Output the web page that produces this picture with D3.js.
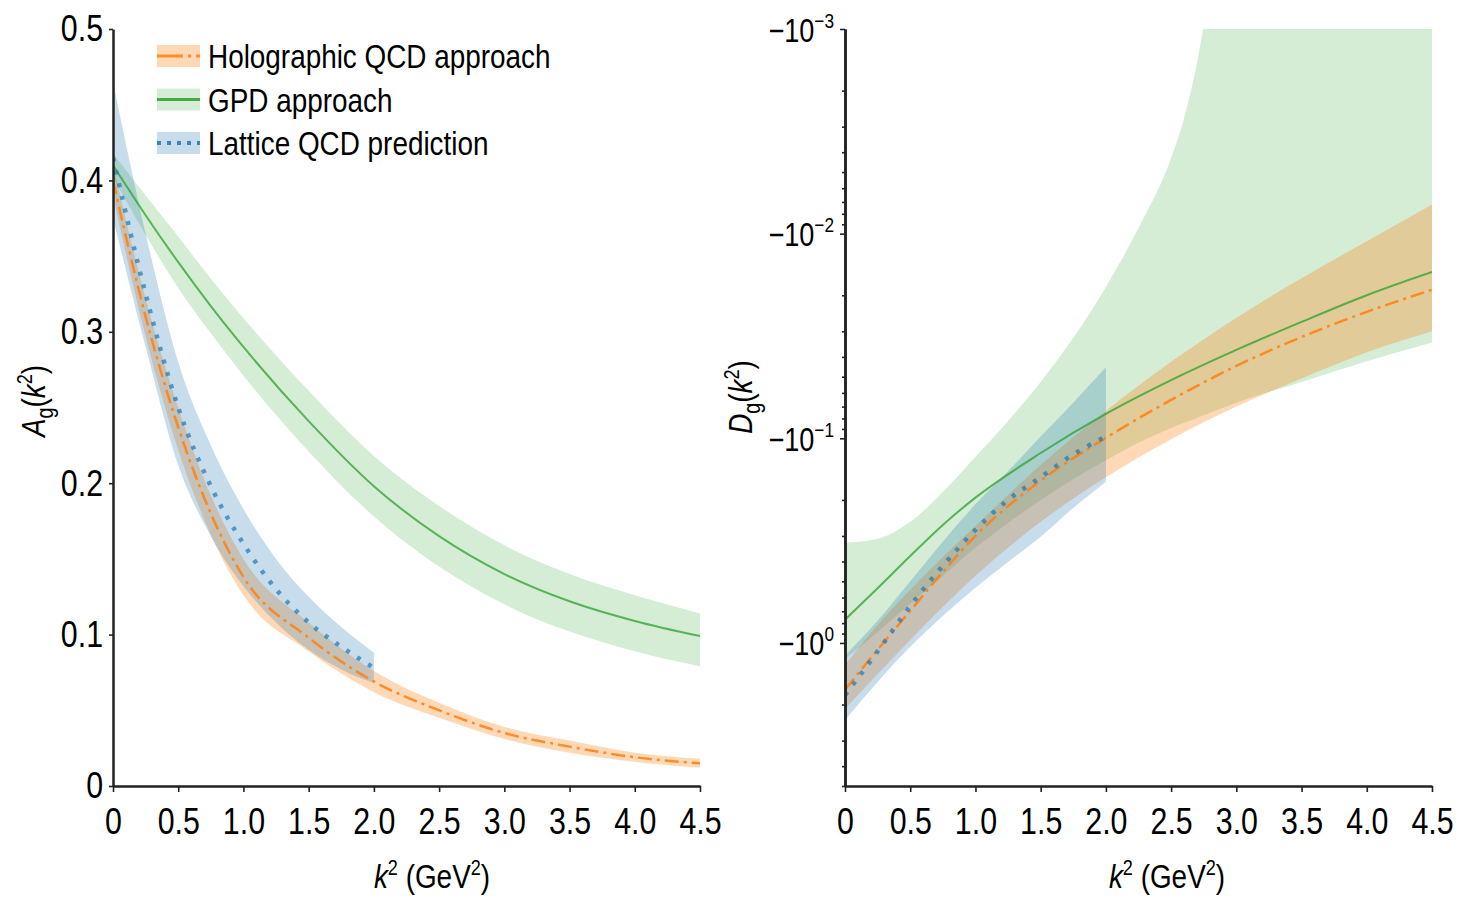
<!DOCTYPE html>
<html>
<head>
<meta charset="utf-8">
<script src="https://cdn.jsdelivr.net/npm/d3@7"></script>
<style>
  body { margin: 0; background: #fff; }
  svg text { font-family: "Liberation Sans Narrow", "Arial Narrow", "Liberation Sans", sans-serif; fill: #000; }
</style>
</head>
<body>
<svg id="chart" width="1460" height="899"></svg>
<script>
/* Data */
/* ==== */
const kGrid = [0, 0.25, 0.5, 0.75, 1.0, 1.5, 2.0, 2.5, 3.0, 3.5, 4.0, 4.5];
const kLattice = [0, 0.25, 0.5, 0.75, 1.0, 1.25, 1.5, 1.75, 2.0];
const kGpdBand = [0, 0.25, 0.5, 0.75, 1.0, 1.25, 1.5, 1.75, 2.0, 2.25, 2.5, 2.6, 2.7, 2.8, 3.0, 3.5, 4.0, 4.5];
const xTicks = [0, 0.5, 1.0, 1.5, 2.0, 2.5, 3.0, 3.5, 4.0, 4.5];
const aTicks = [0, 0.1, 0.2, 0.3, 0.4, 0.5];
const dTicks = [1e-3, 1e-2, 1e-1, 1];
const dTickExp = ["\u22123", "\u22122", "\u22121", "0"];
const legendLabels = ["Holographic QCD approach", "GPD approach", "Lattice QCD prediction"];

// A_g(k^2)
const holoA     = [0.40, 0.31, 0.237, 0.18, 0.138, 0.098, 0.069, 0.050, 0.035, 0.026, 0.019, 0.015];
const holoALow  = [0.39, 0.297, 0.222, 0.166, 0.126, 0.089, 0.062, 0.045, 0.031, 0.022, 0.016, 0.012];
const holoAHigh = [0.41, 0.322, 0.25, 0.192, 0.15, 0.108, 0.076, 0.055, 0.039, 0.030, 0.022, 0.018];
const gpdA      = [0.41, 0.377, 0.346, 0.317, 0.29, 0.241, 0.198, 0.165, 0.14, 0.122, 0.109, 0.099];
const gpdALow   = [0.402, 0.364, 0.329, 0.299, 0.271, 0.221, 0.178, 0.145, 0.12, 0.102, 0.089, 0.079];
const gpdAHigh  = [0.418, 0.39, 0.363, 0.335, 0.309, 0.261, 0.218, 0.185, 0.159, 0.14, 0.126, 0.114];
const latA      = [0.415, 0.325, 0.25, 0.198, 0.16, 0.13, 0.108, 0.092, 0.078];
const latALow   = [0.375, 0.29, 0.212, 0.165, 0.132, 0.108, 0.09, 0.077, 0.068];
const latAHigh  = [0.465, 0.365, 0.28, 0.225, 0.183, 0.15, 0.125, 0.105, 0.088];

// |D_g(k^2)| (values are negative, plotted on a log axis)
const holoD    = [1.69, 1.08, 0.697, 0.45, 0.30, 0.161, 0.0995, 0.0649, 0.0443, 0.032, 0.0241, 0.0188];
const holoDMin = [1.28, 0.817, 0.551, 0.38, 0.268, 0.135, 0.0735, 0.0423, 0.0258, 0.0165, 0.0109, 0.0072];
const holoDMax = [2.1, 1.42, 0.966, 0.667, 0.47, 0.256, 0.155, 0.101, 0.070, 0.051, 0.038, 0.030];
const gpdD     = [0.77, 0.54, 0.376, 0.265, 0.195, 0.118, 0.076, 0.052, 0.037, 0.027, 0.020, 0.0154];
const gpdDMin  = [0.324, 0.31, 0.256, 0.183, 0.123, 0.0822, 0.053, 0.0323, 0.0182, 0.00938, 0.00427, 0.00272,
                  0.00145, 0.00061, 0.0001, 0.0001, 0.0001, 0.0001];
const gpdDMax  = [1.2, 0.883, 0.644, 0.47, 0.343, 0.259, 0.2, 0.158, 0.128, 0.105, 0.089, 0.084,
                  0.0795, 0.075, 0.067, 0.053, 0.042, 0.034];
const latD     = [1.8, 1.1, 0.66, 0.42, 0.28, 0.2, 0.155, 0.12, 0.098];
const latDMin  = [1.15, 0.78, 0.5, 0.32, 0.21, 0.145, 0.098, 0.067, 0.045];
const latDMax  = [2.38, 1.55, 1.045, 0.738, 0.538, 0.402, 0.303, 0.219, 0.163];

/* Set up */
/* ====== */
const svg = d3.select("#chart");
const orange = "#ff7f0e";
const green = "#2ca02c";
const blue = "#1f77b4";

const xL = d3.scaleLinear().domain([0, 4.5]).range([113, 700]);
const yL = d3.scaleLinear().domain([0, 0.5]).range([786, 29]);
const xR = d3.scaleLinear().domain([0, 4.5]).range([845, 1432]);
const yR = d3.scaleLog().domain([1e-3, 5]).range([29, 786]);

const bandRows = (ks, lo, hi) => ks.map((k, i) => ({ k, lo: lo[i], hi: hi[i] }));
const lineRows = (ks, mid) => ks.map((k, i) => ({ k, mid: mid[i] }));

const defs = svg.append("defs");
const addClip = (id, x, y) => {
  defs.append("clipPath").attr("id", id)
    .append("rect")
    .attr("x", x.range()[0]).attr("y", Math.min(...y.range()))
    .attr("width", x.range()[1] - x.range()[0])
    .attr("height", Math.abs(y.range()[1] - y.range()[0]));
};
addClip("clipL", xL, yL);
addClip("clipR", xR, yR);

const styles = {
  holo: { color: orange, alpha: 0.3, dash: "14,5,3,5", width: 2.5, opacity: 0.85 },
  gpd: { color: green, alpha: 0.2, dash: null, width: 2, opacity: 0.75 },
  lat: { color: blue, alpha: 0.25, dash: "4,9", width: 4.5, opacity: 0.7 },
};

const drawBand = (g, x, y, data, s) => {
  const area = d3.area()
    .x((d) => x(d.k)).y0((d) => y(d.lo)).y1((d) => y(d.hi))
    .curve(d3.curveMonotoneX);
  g.append("path").datum(data)
    .attr("d", area)
    .attr("fill", s.color).attr("fill-opacity", s.alpha);
};

const drawLine = (g, x, y, data, s) => {
  const line = d3.line().x((d) => x(d.k)).y((d) => y(d.mid)).curve(d3.curveMonotoneX);
  g.append("path").datum(data)
    .attr("d", line)
    .attr("fill", "none")
    .attr("stroke", s.color).attr("stroke-width", s.width)
    .attr("stroke-opacity", s.opacity)
    .attr("stroke-dasharray", s.dash);
};

// rich text with sub/superscripts, parts = [text, size, shift, italic]
const rich = (sel, parts) => {
  let prev = 0;
  parts.forEach(([t, size, shift, italic]) => {
    sel.append("tspan")
      .text(t)
      .attr("font-size", size)
      .attr("font-style", italic ? "italic" : "normal")
      .attr("dy", shift - prev);
    prev = shift;
  });
};

const styleAxis = (g, fontSize) => {
  g.select(".domain").attr("stroke", "#222").attr("stroke-width", 2.5);
  g.selectAll(".tick line").attr("stroke", "#222").attr("stroke-width", 1.6);
  g.selectAll(".tick text").attr("font-size", fontSize).attr("fill", "#000");
  g.attr("font-family", null);
};

const fmt = (d) => (d === 0 ? "0" : d.toFixed(1));
const kTitle = [["k", 34, 0, true], ["2", 22, -13, false], [" (GeV", 34, 0, false], ["2", 22, -13, false], [")", 34, 0, false]];
const yTitle = (sym) => [[sym, 34, 0, true], ["g", 24, 8, false], ["(", 34, 0, false], ["k", 34, 0, true], ["2", 22, -13, false], [")", 34, 0, false]];

/* Left panel */
/* ========== */
const left = svg.append("g");
const leftPlot = left.append("g").attr("clip-path", "url(#clipL)");
drawBand(leftPlot, xL, yL, bandRows(kGrid, holoALow, holoAHigh), styles.holo);
drawBand(leftPlot, xL, yL, bandRows(kGrid, gpdALow, gpdAHigh), styles.gpd);
drawBand(leftPlot, xL, yL, bandRows(kLattice, latALow, latAHigh), styles.lat);
drawLine(leftPlot, xL, yL, lineRows(kGrid, gpdA), styles.gpd);
drawLine(leftPlot, xL, yL, lineRows(kGrid, holoA), styles.holo);
drawLine(leftPlot, xL, yL, lineRows(kLattice, latA), styles.lat);

left.append("g")
  .attr("transform", `translate(0,${yL(0)})`)
  .call(d3.axisBottom(xL).tickValues(xTicks).tickFormat(fmt).tickSize(6).tickSizeOuter(0).tickPadding(16))
  .call((g) => styleAxis(g, 37));

left.append("g")
  .attr("transform", `translate(${xL(0)},0)`)
  .call(d3.axisLeft(yL).tickValues(aTicks).tickFormat(fmt).tickSize(4).tickSizeOuter(0).tickPadding(6))
  .call((g) => styleAxis(g, 37));

left.append("text")
  .attr("transform", "translate(45,401) rotate(-90)")
  .attr("text-anchor", "middle")
  .call(rich, yTitle("A"));

left.append("text")
  .attr("x", 432).attr("y", 888)
  .attr("text-anchor", "middle")
  .call(rich, kTitle);

// legend
const legendStyles = [
  { ...styles.holo, dash: "26,5,3,5", width: 3 },
  { ...styles.gpd, width: 3 },
  { ...styles.lat, dash: "4,6", width: 4 },
];
const legend = left.append("g").attr("transform", "translate(157,0)");
legendLabels.forEach((label, i) => {
  const s = legendStyles[i];
  const row = legend.append("g").attr("transform", `translate(0,${56 + i * 43.5})`);
  row.append("rect")
    .attr("x", 0).attr("y", -11).attr("width", 43).attr("height", 22)
    .attr("fill", s.color).attr("fill-opacity", s.alpha);
  row.append("line")
    .attr("x1", 0).attr("x2", 43).attr("y1", 0).attr("y2", 0)
    .attr("stroke", s.color).attr("stroke-width", s.width)
    .attr("stroke-dasharray", s.dash)
    .attr("stroke-opacity", 0.85);
  row.append("text")
    .attr("x", 51).attr("y", 12)
    .attr("font-size", 34)
    .text(label);
});

/* Right panel */
/* =========== */
const right = svg.append("g");
const rightPlot = right.append("g").attr("clip-path", "url(#clipR)");
drawBand(rightPlot, xR, yR, bandRows(kGpdBand, gpdDMin, gpdDMax), styles.gpd);
drawBand(rightPlot, xR, yR, bandRows(kGrid, holoDMin, holoDMax), styles.holo);
drawBand(rightPlot, xR, yR, bandRows(kLattice, latDMin, latDMax), styles.lat);
drawLine(rightPlot, xR, yR, lineRows(kGrid, gpdD), styles.gpd);
drawLine(rightPlot, xR, yR, lineRows(kGrid, holoD), styles.holo);
drawLine(rightPlot, xR, yR, lineRows(kLattice, latD), styles.lat);

right.append("g")
  .attr("transform", `translate(0,${yR.range()[1]})`)
  .call(d3.axisBottom(xR).tickValues(xTicks).tickFormat(fmt).tickSize(6).tickSizeOuter(0).tickPadding(16))
  .call((g) => styleAxis(g, 37));

// minor log ticks
const minorTicks = [];
dTicks.forEach((base) => {
  d3.range(2, 10).forEach((m) => {
    if (base * m <= 5) minorTicks.push(base * m);
  });
});
right.append("g")
  .attr("transform", `translate(${xR(0)},0)`)
  .call(d3.axisLeft(yR).tickValues(minorTicks).tickFormat("").tickSize(3).tickSizeOuter(0))
  .call((g) => styleAxis(g, 0));

const yAxisR = right.append("g")
  .attr("transform", `translate(${xR(0)},0)`)
  .call(d3.axisLeft(yR).tickValues(dTicks).tickFormat("").tickSize(5).tickSizeOuter(0))
  .call((g) => styleAxis(g, 33));

yAxisR.selectAll(".tick").each(function (d, i) {
  const t = d3.select(this).select("text");
  t.attr("x", -11).attr("dy", null).attr("y", 12).attr("text-anchor", "end");
  rich(t, [["\u221210", 33, 0, false], [dTickExp[i], 21, -14, false]]);
});

right.append("text")
  .attr("transform", "translate(752,397) rotate(-90)")
  .attr("text-anchor", "middle")
  .call(rich, yTitle("D"));

right.append("text")
  .attr("x", 1167).attr("y", 888)
  .attr("text-anchor", "middle")
  .call(rich, kTitle);

// the reference type is a condensed sans; squeeze the regular face horizontally
svg.selectAll("text").each(function () {
  const w = this.getComputedTextLength();
  if (w > 0) {
    d3.select(this).attr("textLength", w * 0.82).attr("lengthAdjust", "spacingAndGlyphs");
  }
});
</script>
</body>
</html>
